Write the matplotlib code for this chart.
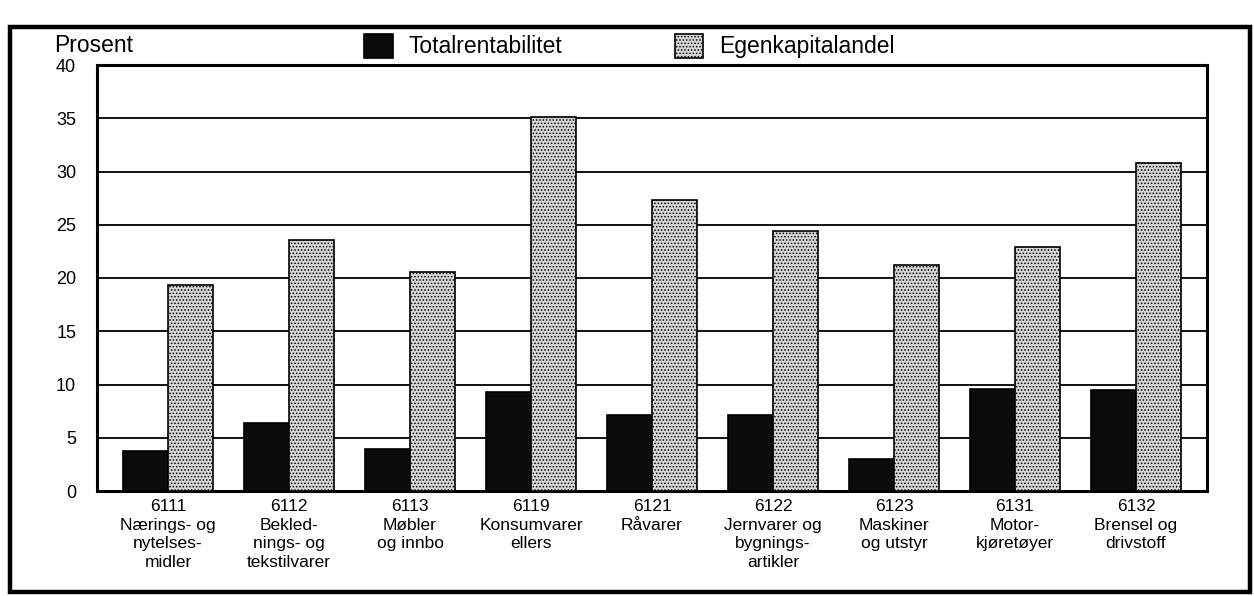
import matplotlib
matplotlib.use("Agg")
import matplotlib.pyplot as plt
from matplotlib.patches import Rectangle
import numpy as np

plt.rcParams['font.family'] = ['Liberation Sans', 'DejaVu Sans']
plt.rcParams['hatch.linewidth'] = 0.7

categories = [
    "6111\nNærings- og\nnytelses-\nmidler",
    "6112\nBekled-\nnings- og\ntekstilvarer",
    "6113\nMøbler\nog innbo",
    "6119\nKonsumvarer\nellers",
    "6121\nRåvarer",
    "6122\nJernvarer og\nbygnings-\nartikler",
    "6123\nMaskiner\nog utstyr",
    "6131\nMotor-\nkjøretøyer",
    "6132\nBrensel og\ndrivstoff",
]
totalrentabilitet = [3.8, 6.4, 3.9, 9.3, 7.1, 7.1, 3.0, 9.6, 9.5]
egenkapitalandel = [19.3, 23.6, 20.6, 35.1, 27.3, 24.4, 21.2, 22.9, 30.8]
yticks = [0, 5, 10, 15, 20, 25, 30, 35, 40]

W, H = 1254, 596
fig = plt.figure(figsize=(W / 100, H / 100), dpi=100)
ax = fig.add_axes([97 / W, 1 - 491 / H, (1207 - 97) / W, (491 - 65) / H])

x = np.arange(len(categories))
bw = 0.372
b1 = ax.bar(x - bw / 2, totalrentabilitet, width=bw, color='#0b0b0b',
            edgecolor='black', linewidth=1.2, zorder=3, label='Totalrentabilitet')
b2 = ax.bar(x + bw / 2, egenkapitalandel, width=bw, color='#d6d6d6',
            edgecolor='black', hatch='.....', linewidth=1.2, zorder=3,
            label='Egenkapitalandel')

ax.set_xlim(-0.587, len(categories) - 1 + 0.587)
ax.set_ylim(0, 40)
ax.set_yticks(yticks)
ax.set_yticklabels([str(v) for v in yticks])
ax.set_xticks(x)
ax.set_xticklabels(categories, linespacing=1.29)
ax.tick_params(axis='y', length=0, pad=15, labelsize=13)
ax.tick_params(axis='x', length=0, pad=6, labelsize=12.5)
ax.yaxis.grid(True, color='black', linewidth=1.3, zorder=0)
ax.set_axisbelow(True)
for s in ax.spines.values():
    s.set_linewidth(2.2)
    s.set_color('black')

fig.text(54 / W, 1 - 46 / H, "Prosent", fontsize=16.5, va='center', ha='left')
fig.legend(handles=[b1, b2], loc='center left', bbox_to_anchor=(364 / W, 1 - 46 / H),
           ncol=2, frameon=False, fontsize=16.5, handlelength=1.25, handleheight=1.25,
           handletextpad=0.7, columnspacing=4.9, borderpad=0, borderaxespad=0)

frame = Rectangle((10 / W, 1 - 592 / H), (1250 - 10) / W, (592 - 27) / H,
                  transform=fig.transFigure, fill=False, edgecolor='black',
                  linewidth=3.2, zorder=10)
fig.add_artist(frame)

fig.savefig("out.png", dpi=100, facecolor='white')
